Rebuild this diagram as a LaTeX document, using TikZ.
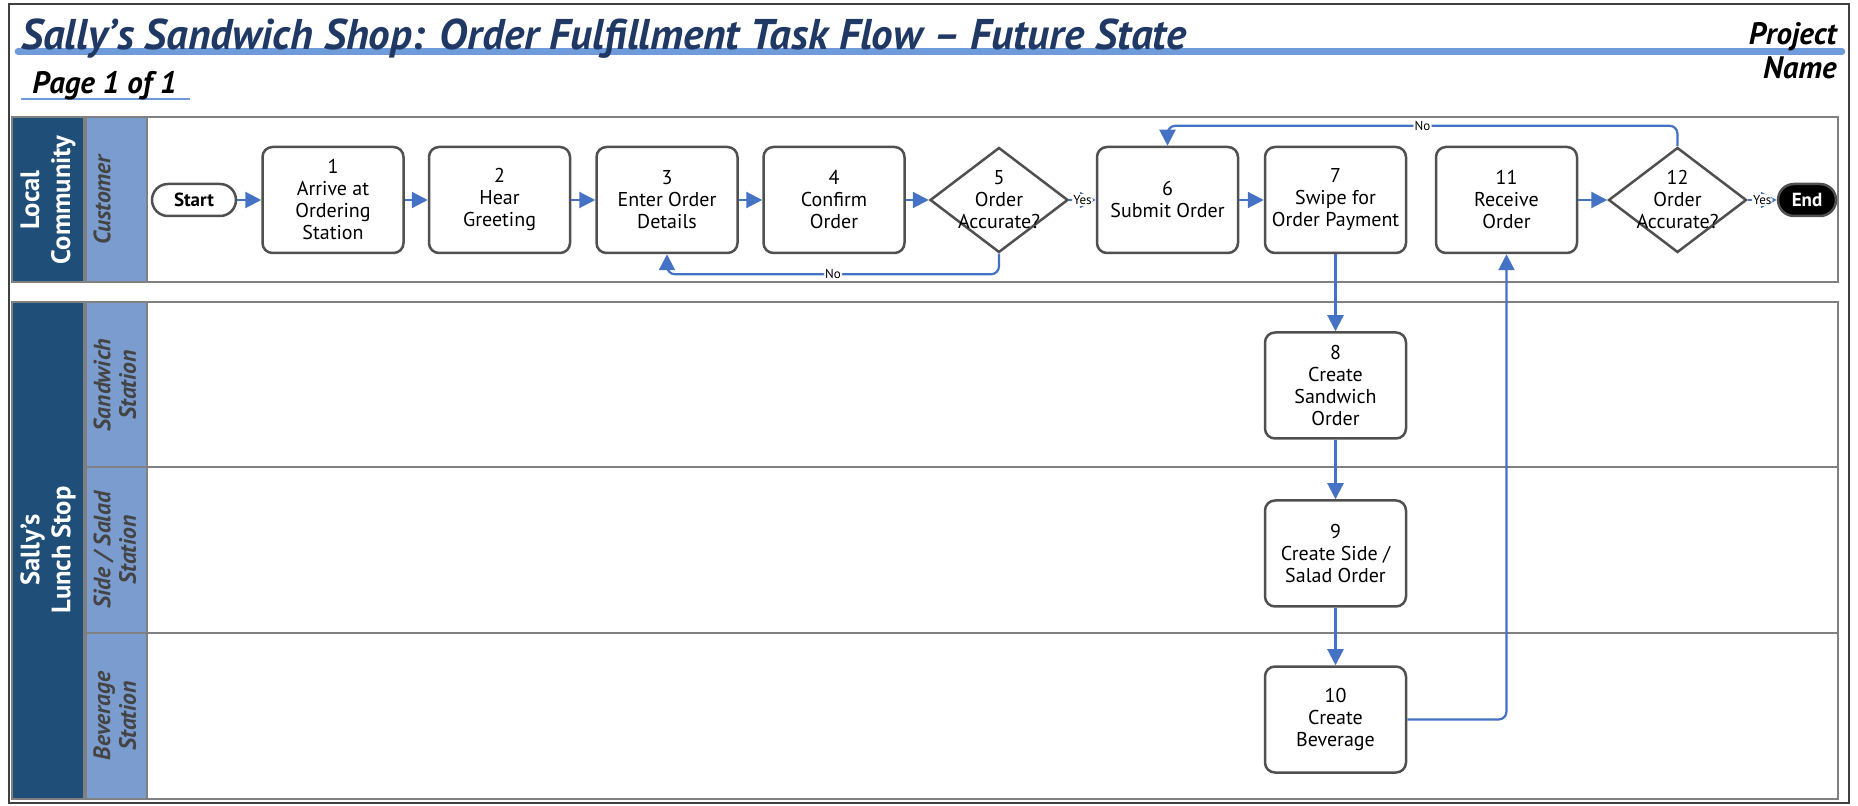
\documentclass[tikz,border=0pt]{standalone}
\usepackage{fontspec}
\setmainfont{PT Sans}
\usepackage{tikz}
\usetikzlibrary{positioning,arrows.meta,calc,shapes.geometric}
\definecolor{navy}{RGB}{31,78,121}
\definecolor{lanebl}{RGB}{123,156,206}
\definecolor{titleblue}{RGB}{31,56,100}
\definecolor{rulebl}{RGB}{111,155,219}
\definecolor{linkbl}{RGB}{68,114,196}
\definecolor{edgegray}{RGB}{80,80,80}
\definecolor{poolgray}{RGB}{128,128,128}
\tikzset{
  task/.style={draw=edgegray,line width=1.25pt,rounded corners=5pt,fill=white,align=center,
    font=\fontsize{10}{11}\selectfont,minimum width=70.5pt,minimum height=53pt,inner sep=1pt},
  decision/.style={diamond,draw=edgegray,line width=1.25pt,fill=white,minimum width=69pt,
    minimum height=52.5pt,inner sep=0pt},
  dtext/.style={align=center,font=\fontsize{10}{11}\selectfont},
  term/.style={draw=edgegray,line width=1.25pt,rounded corners=8pt,font=\bfseries\fontsize{9.5}{11}\selectfont,
    minimum height=16pt,inner sep=1pt},
  flow/.style={-{Triangle[length=8pt,width=8pt]},draw=linkbl,line width=1.1pt,rounded corners=4pt},
  tag/.style={fill=white,font=\fontsize{6.5}{7}\selectfont,inner sep=0.6pt},
  pool/.style={draw=poolgray,line width=1pt},
  poolhead/.style={pool,fill=navy},
  lanehead/.style={pool,fill=lanebl},
  pooltext/.style={rotate=90,text=white,align=center,font=\bfseries\fontsize{13.3}{15.5}\selectfont},
  lanetext/.style={rotate=90,anchor=north,inner sep=0pt,text=edgegray!85!black,align=center,
    font=\bfseries\itshape\fontsize{11.8}{12.8}\selectfont},
  headtext/.style={inner sep=0pt,font=\bfseries\itshape\fontsize{15.5}{18}\selectfont},
}

\begin{document}
\begin{tikzpicture}[x=0.5pt,y=-0.5pt]
  \useasboundingbox (0,0) rectangle (1858,806);
  \draw[black!75,line width=0.75pt] (9,4) rectangle (1849,803);

  % heading
  \draw[rulebl,line width=3.3pt,line cap=round] (18,51.5) -- (1842,51.5);
  \node[anchor=base west,inner sep=0pt,text=titleblue,font=\bfseries\itshape\fontsize{21.5}{24}\selectfont]
    (title) at (21,50) {Sally’s Sandwich Shop: Order Fulfillment Task Flow – Future State};
  \draw[rulebl,line width=1pt] (21,99) -- (190,99);
  \node[headtext,anchor=base west] (page) at (32,94) {Page 1 of 1};
  \node[headtext,anchor=base east] (proj) at (1837,45) {Project};
  \node[headtext,anchor=base east] (pname) at (1837,79) {Name};

  % pools and lanes
  \draw[pool] (12,117) rectangle (1838,282);
  \draw[poolhead] (12,117) rectangle (84,282);
  \draw[lanehead] (86,117) rectangle (147,282);
  \node[pooltext] (community) at (48,200) {Local\\Community};
  \node[lanetext] (customer) at (93,200) {Customer};

  \draw[pool] (12,302) rectangle (1838,799);
  \draw[poolhead] (12,302) rectangle (84,799);
  \draw[lanehead] (86,302) rectangle (147,467);
  \draw[lanehead] (86,467) rectangle (147,633);
  \draw[lanehead] (86,633) rectangle (147,799);
  \draw[pool] (147,467) -- (1838,467);
  \draw[pool] (147,633) -- (1838,633);
  \node[pooltext] (lunch) at (48,550) {Sally’s\\Lunch Stop};
  \node[lanetext] (sandwich) at (93,385) {Sandwich\\Station};
  \node[lanetext] (side) at (93,550) {Side / Salad\\Station};
  \node[lanetext] (beverage) at (93,716) {Beverage\\Station};

  % steps
  \node[term,fill=white,minimum width=42pt] (start) at (194,200) {Start};
  \node[task] (s1) at (333,200) {1\\Arrive at\\Ordering\\Station};
  \node[task] (s2) at (499.5,200) {2\\Hear\\Greeting};
  \node[task] (s3) at (667,200) {3\\Enter Order\\Details};
  \node[task] (s4) at (834,200) {4\\Confirm\\Order};
  \node[decision,label={[dtext]center:5\\Order\\Accurate?}] (s5) at (999,200) {};
  \node[task] (s6) at (1167.5,200) {6\\Submit Order};
  \node[task] (s7) at (1335.5,200) {7\\Swipe for\\Order Payment};
  \node[task] (s8) at (1335.5,385.5) {8\\Create\\Sandwich\\Order};
  \node[task] (s9) at (1335.5,553.5) {9\\Create Side /\\Salad Order};
  \node[task] (s10) at (1335.5,719.5) {10\\Create\\Beverage};
  \node[task] (s11) at (1506.5,200) {11\\Receive\\Order};
  \node[decision,label={[dtext]center:12\\Order\\Accurate?}] (s12) at (1677.5,200) {};
  \node[term,fill=black,text=white,minimum width=29pt] (end) at (1807,200) {End};

  % connectors
  \draw[flow] (start) -- (s1);
  \draw[flow] (s1) -- (s2);
  \draw[flow] (s2) -- (s3);
  \draw[flow] (s3) -- (s4);
  \draw[flow] (s4) -- (s5);
  \draw[flow] (s5) -- node[tag] {Yes} (s6);
  \draw[flow] (s5.south) -- ++(0,20.5) -| node[tag,pos=0.25] {No} (s3.south);
  \draw[flow] (s6) -- (s7);
  \draw[flow] (s7) -- (s8);
  \draw[flow] (s8) -- (s9);
  \draw[flow] (s9) -- (s10);
  \draw[flow] (s10.east) -| (s11.south);
  \draw[flow] (s11) -- (s12);
  \draw[flow] (s12) -- node[tag] {Yes} (end);
  \draw[flow] (s12.north) -- ++(0,-20.5) -| node[tag,pos=0.25] {No} (s6.north);
\end{tikzpicture}
\end{document}
